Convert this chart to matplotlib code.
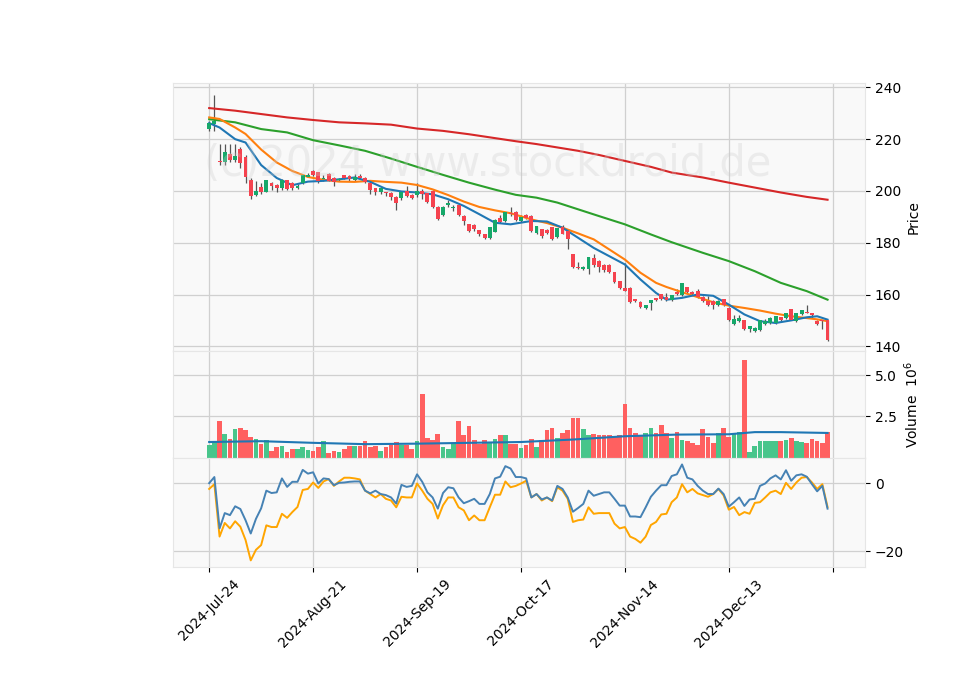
import numpy as np
import matplotlib
matplotlib.use("Agg")
import matplotlib.pyplot as plt

# --- Data ---
opens = [224, 226, 211.5, 211, 214, 212, 216, 213, 204, 198.5,
         201.5, 199.7, 203, 202.3, 201, 204, 203, 201.3, 203, 205.5,
         207.5, 207, 204.6, 206.4, 205, 204.3, 206, 205.8, 204.3, 205.8,
         205, 203, 201, 199.4, 199.3, 199.2, 197.7, 197.2, 200, 198.4,
         198.4, 200, 199, 200, 193.8, 190.7, 194.4, 193.4, 194.3, 190.3,
         187, 186.8, 184.7, 183.2, 182, 184.3, 189.3, 188.4, 191.2, 191.9,
         188.4, 190.6, 190.3, 183.6, 185, 184.9, 185.8, 182.3, 185.8, 184.3,
         175.4, 170.5, 169.8, 169.8, 173.9, 172.9, 171.3, 171.3, 168.4, 165,
         162.2, 162.5, 158, 157, 154.7, 156.8, 158.4, 160, 159, 158,
         161, 160, 162.6, 161, 161.3, 159, 157.4, 157.5, 156, 158,
         154.6, 148.6, 149.7, 150, 146.5, 146, 146.3, 148.6, 149, 148.9,
         151, 151, 154.2, 149.7, 152.6, 153.2, 152.6, 149.7, 150, 150]
closes = [226, 227, 211, 215, 212, 213.5, 210.6, 205.5, 198, 200,
          199.7, 204, 202, 201, 204, 200.6, 201, 201.8, 206, 206,
          206, 204, 204.9, 204, 203.5, 204.6, 205, 204.5, 205.4, 205,
          203.5, 200.4, 199.4, 200.8, 199.2, 197.7, 195.4, 199.6, 198.2, 197.4,
          199.7, 199, 195.8, 193.8, 189, 193.8, 195.2, 193.8, 190.7, 188.4,
          184.5, 185.4, 183.2, 181.9, 185.8, 188.8, 188.1, 191.6, 191, 188.9,
          189.7, 189.7, 184.5, 186.2, 182.6, 183.6, 181.3, 185.4, 183.5, 181.3,
          170.8, 170.3, 170.4, 174.2, 171.3, 170.8, 169.3, 168.7, 165, 162.5,
          161.5, 157, 157.4, 155.2, 155.8, 157.8, 157.9, 158.4, 157.7, 159.7,
          160.3, 164.3, 160.8, 160.2, 159, 157.4, 156.1, 156, 157.4, 156,
          150, 150.3, 150.6, 146.5, 147.6, 147, 149.9, 149.7, 150.8, 151.5,
          150.3, 152.6, 150.3, 152.6, 153.7, 153, 152, 148.6, 149.6, 142.6]
highs = [227, 237, 218, 218, 218, 218, 217, 214, 205, 204,
         203, 204.2, 203.5, 202.6, 204.8, 204.2, 203.5, 202.5, 206.2, 207,
         208, 207.3, 206, 206.8, 205.3, 205, 206.3, 206, 206.5, 206.5,
         205.2, 203.3, 201.3, 201, 199.6, 199.5, 198, 199.9, 202, 199,
         203, 200.6, 199.3, 200.3, 194, 194.2, 196.5, 194.5, 194.6, 190.7,
         187.4, 187.2, 185, 183.5, 186.2, 189.2, 190.8, 191.9, 193.7, 192.2,
         190.8, 191, 190.6, 186.6, 185.3, 185.2, 186.2, 185.8, 187, 184.6,
         175.8, 172.5, 171, 174.5, 175.5, 173.3, 171.6, 171.7, 168.7, 165.3,
         172, 162.8, 158.3, 157.3, 156, 158, 158.8, 160.3, 160.5, 160,
         162, 164.6, 163, 161.3, 162, 159.3, 159.5, 157.8, 157.7, 158.3,
         155, 151.9, 152, 150.3, 147.9, 147.3, 150.2, 150.5, 151.2, 151.8,
         151.3, 153, 154.5, 153, 154, 156, 152.9, 150, 150.3, 150.3]
lows = [223, 223, 210, 210, 211, 211, 209, 203, 197, 198,
        199, 199.5, 200.5, 199.7, 200.5, 200.2, 200.4, 200.8, 202.8, 205.3,
        205.8, 203, 203.7, 203.8, 202, 204, 204.7, 203.8, 204, 204.5,
        203.2, 198.7, 198.5, 199, 198, 196.4, 192.5, 196.6, 197.7, 197,
        197.8, 197, 195.4, 193.5, 188.6, 190.2, 193.8, 192.2, 190.3, 187,
        184, 184.5, 182.6, 181.4, 181.6, 184, 187.6, 188, 190.5, 188.5,
        188, 189.2, 184, 183.2, 182, 183.2, 181, 182, 183.2, 177.5,
        170.4, 169.8, 169.4, 167.8, 170.8, 168.8, 168.8, 168.3, 164.6, 162,
        161.2, 156.6, 157, 154.8, 154.3, 154, 157.5, 158, 157.3, 157.6,
        159.8, 159.6, 160.4, 159.8, 158.6, 157, 155.7, 154.3, 155.6, 155.6,
        149.6, 148.2, 149.3, 146.1, 145.7, 145.5, 145.9, 148.2, 148.6, 148.5,
        149.9, 150.6, 150, 149.3, 152.2, 152.7, 151.1, 148.2, 146.6, 142.2]

volume = [0.78, 1.0, 2.2, 1.45, 1.15, 1.75, 1.8, 1.7, 1.25, 1.15,
          0.85, 1.1, 0.4, 0.65, 0.7, 0.35, 0.55, 0.55, 0.65, 0.47,
          0.4, 0.65, 1.0, 0.3, 0.4, 0.35, 0.5, 0.7, 0.7, 0.68,
          1.0, 0.65, 0.7, 0.4, 0.65, 0.78, 0.95, 0.78, 0.78, 0.55,
          1.0, 3.85, 1.2, 1.1, 1.45, 0.65, 0.55, 0.85, 2.2, 1.4,
          1.95, 1.1, 0.85, 1.1, 0.95, 1.15, 1.35, 1.35, 0.85, 0.85,
          0.6, 0.78, 1.15, 0.65, 1.1, 1.65, 1.8, 1.2, 1.5, 1.65,
          2.4, 2.4, 1.75, 1.35, 1.45, 1.4, 1.35, 1.35, 1.3, 1.4,
          3.25, 1.8, 1.5, 1.35, 1.5, 1.8, 1.5, 2.0, 1.5, 1.2,
          1.55, 1.1, 1.0, 0.9, 0.78, 1.75, 1.25, 0.9, 1.5, 1.8,
          1.25, 1.45, 1.55, 5.9, 0.35, 0.7, 1.0, 1.0, 1.0, 1.0,
          1.0, 1.1, 1.2, 1.0, 0.95, 0.9, 1.15, 1.0, 0.9, 1.55]

# moving averages, sampled at the bars where they were read
ma_x = [0, 5, 10, 15, 20, 25, 30, 35, 40, 45, 50, 55, 59, 63, 67, 71,
        75, 80, 85, 89, 95, 100, 105, 110, 115, 119]
ma_red = [232, 231, 229.7, 228.4, 227.4, 226.5, 226.1, 225.6, 224.1, 223.2,
          221.9, 220.4, 219.2, 218.1, 216.8, 215.5, 213.9, 211.6, 209.3, 207.1,
          205.2, 203.2, 201.3, 199.4, 197.7, 196.6]
ma_green = [227.7, 226.5, 223.9, 222.6, 219.6, 217.6, 215.5, 212.5, 209.3, 206.2,
            203.2, 200.5, 198.5, 197.4, 195.5, 192.9, 190.3, 187.1, 183.2, 180.2,
            176.1, 172.9, 169, 164.5, 161.3, 158]
ma_fast_x = [0, 2, 5, 7, 10, 13, 16, 19, 22, 25, 28, 31, 34, 37, 40, 43, 46, 49,
             52, 55, 58, 62, 65, 68, 71, 74, 77, 80, 83, 86, 88, 91, 94, 97, 100,
             103, 106, 109, 112, 115, 117, 119]
ma_orange = [228.4, 227.8, 224.5, 222, 216, 211, 207.7, 205.4, 204.3, 203.6,
             203.5, 203.9, 203.5, 203.2, 202.3, 200.6, 198.4, 195.9, 193.8, 192.5,
             191.4, 189, 187.6, 185.8, 183.6, 181.3, 177.4, 173.5, 168.4, 164.5,
             162.9, 160.9, 159, 157, 155.7, 154.8, 153.8, 152.6, 151.6, 150.9,
             150.4, 149.7]
ma_blue = [226.2, 224.5, 220, 218.7, 210, 205, 202.2, 203.6, 203.9, 204.5,
           205.2, 203.5, 200.8, 199.8, 199.4, 198.7, 196.8, 194.2, 191, 187.7,
           187.1, 188.4, 188.2, 185.8, 181.9, 178, 174.8, 171.6, 165.8, 160.6,
           158, 158.7, 160, 159.5, 156.1, 152.3, 149.7, 149, 150, 151.2,
           151.6, 150.3]
vol_ma_x = [0, 10, 20, 30, 40, 50, 60, 70, 80, 90, 100, 105, 110, 119]
vol_ma = [0.95, 1.0, 0.9, 0.82, 0.85, 0.9, 0.95, 1.1, 1.3, 1.4, 1.42, 1.55, 1.55, 1.5]

osc_blue = [0, 1.8, -13.3, -8.8, -9.4, -6.8, -7.6, -10.9, -14.8, -10.5,
            -7.4, -2.2, -2.9, -2.7, 1.4, -1.1, 0.4, 0.4, 3.9, 2.8,
            3.2, -0.1, 1.4, 1.2, -0.6, 0.1, 0.2, 0.4, 0.5, 0.5,
            -2.2, -3.0, -2.2, -3.2, -3.5, -4.2, -6.0, -0.5, -1.1, -0.8,
            2.6, 0.4, -2.7, -4.2, -7.5, -2.9, -1.2, -1.5, -4.2, -5.9,
            -5.3, -4.6, -6.1, -6.1, -3.2, 1.4, 1.9, 5.0, 4.3, 1.8,
            1.8, 1.4, -4.2, -3.2, -4.8, -4.2, -5.1, -0.8, -1.7, -4.2,
            -8.4, -7.3, -6.1, -2.2, -3.7, -3.2, -2.7, -2.7, -4.6, -6.6,
            -6.6, -9.8, -9.8, -10.0, -7.1, -4.0, -2.2, -0.6, -0.6, 2.1,
            2.6, 5.5, 1.6, 1.1, -0.8, -2.2, -3.2, -3.2, -1.6, -3.2,
            -6.9, -5.6, -4.2, -6.7, -4.8, -4.6, -0.8, -0.1, 1.4, 2.3,
            1.1, 3.8, 0.7, 2.3, 2.6, 1.9, -0.3, -2.4, -0.8, -7.5]
osc_orange = [-1.7, -0.3, -15.7, -11.7, -13.3, -11.2, -12.8, -16.7, -22.7, -19.6,
              -18.2, -12.4, -12.9, -12.9, -9.0, -10.2, -8.5, -7.0, -2.0, -1.7,
              0.2, -1.4, 0.5, 1.2, -0.8, 0.5, 1.6, 1.6, 1.4, 1.1,
              -2.2, -3.2, -4.2, -3.2, -4.6, -5.1, -7.1, -4.0, -4.2, -4.2,
              -0.1, -2.2, -4.6, -6.1, -10.4, -6.5, -4.2, -4.2, -7.1, -8.0,
              -10.9, -9.5, -10.9, -10.9, -7.1, -3.4, -3.4, 0.5, -1.2, -0.8,
              -0.1, 0.7, -4.2, -3.2, -5.1, -4.2, -5.3, -1.2, -2.2, -4.6,
              -11.4, -10.9, -10.7, -7.1, -9.0, -8.8, -8.8, -8.8, -11.9, -13.3,
              -12.9, -15.7, -16.4, -17.5, -15.7, -12.3, -11.4, -9.2, -9.0, -5.6,
              -4.2, -0.3, -2.7, -1.7, -3.0, -3.5, -4.0, -3.2, -1.7, -3.6,
              -7.8, -7.0, -9.4, -8.5, -9.0, -5.8, -5.6, -4.2, -2.7, -2.2,
              -3.2, 0.1, -1.7, 0.2, 1.6, 1.8, 0.2, -1.7, -0.3, -7.0]

tick_pos = [0, 20, 40, 60, 80, 100, 120]
tick_labels = ["2024-Jul-24", "2024-Aug-21", "2024-Sep-19", "2024-Oct-17",
               "2024-Nov-14", "2024-Dec-13", ""]

UP, DOWN = "#16a86a", "#f5434f"
VUP, VDOWN = "#48c58b", "#ff6060"
BG = "#f9f9f9"
GRID = "#d0d0d0"

x = np.arange(len(closes))
o, c, h, l = map(np.array, (opens, closes, highs, lows))
up = c >= o

fig = plt.figure(figsize=(9.6, 6.9), dpi=100)
ax1 = fig.add_axes([0.180, 0.491, 0.721, 0.388])
ax2 = fig.add_axes([0.180, 0.336, 0.721, 0.155], sharex=ax1)
ax3 = fig.add_axes([0.180, 0.178, 0.721, 0.158], sharex=ax1)

for ax in (ax1, ax2, ax3):
    ax.set_facecolor(BG)
    ax.grid(True, color=GRID, linewidth=0.9)
    ax.set_axisbelow(True)
    ax.yaxis.tick_right()
    ax.yaxis.set_label_position("right")
    for s in ax.spines.values():
        s.set_color("#e6e6e6")

# candles
ax1.vlines(x, l, h, color="#555555", linewidth=0.9, zorder=2)
ax1.bar(x, np.abs(c - o) + 0.15, bottom=np.minimum(o, c), width=0.75,
        color=np.where(up, UP, DOWN), zorder=3)
ax1.plot(ma_x, ma_red, color="#d62728", linewidth=1.5)
ax1.plot(ma_x, ma_green, color="#2ca02c", linewidth=1.5)
ax1.plot(ma_fast_x, ma_orange, color="#ff7f0e", linewidth=1.5)
ax1.plot(ma_fast_x, ma_blue, color="#1f77b4", linewidth=1.5)
ax1.set_ylim(138.1, 241.5)
ax1.set_yticks([140, 160, 180, 200, 220, 240])
ax1.set_ylabel("Price")
ax1.text(0.455, 0.70, "(c)2024 www.stockdroid.de", transform=ax1.transAxes,
         ha="center", va="center", fontsize=30, color="#cccccc", alpha=0.3)
plt.setp(ax1.get_xticklabels(), visible=False)

# volume
ax2.bar(x, volume, width=0.9, color=np.where(up, VUP, VDOWN))
ax2.plot(vol_ma_x, vol_ma, color="#1f77b4", linewidth=1.5)
ax2.set_ylim(-0.03, 6.46)
ax2.set_yticks([2.5, 5.0])
ax2.set_yticklabels(["2.5", "5.0"])
ax2.set_ylabel("Volume  $10^6$")
plt.setp(ax2.get_xticklabels(), visible=False)

# oscillator
ax3.plot(x, osc_orange, color="orange", linewidth=1.4)
ax3.plot(x, osc_blue, color="steelblue", linewidth=1.4)
ax3.set_ylim(-24.7, 7.35)
ax3.set_yticks([-20, 0])

ax3.set_xlim(-7, 126.2)
ax3.set_xticks(tick_pos)
ax3.set_xticklabels(tick_labels, rotation=45, ha="center")

fig.savefig("out.png", dpi=100)
